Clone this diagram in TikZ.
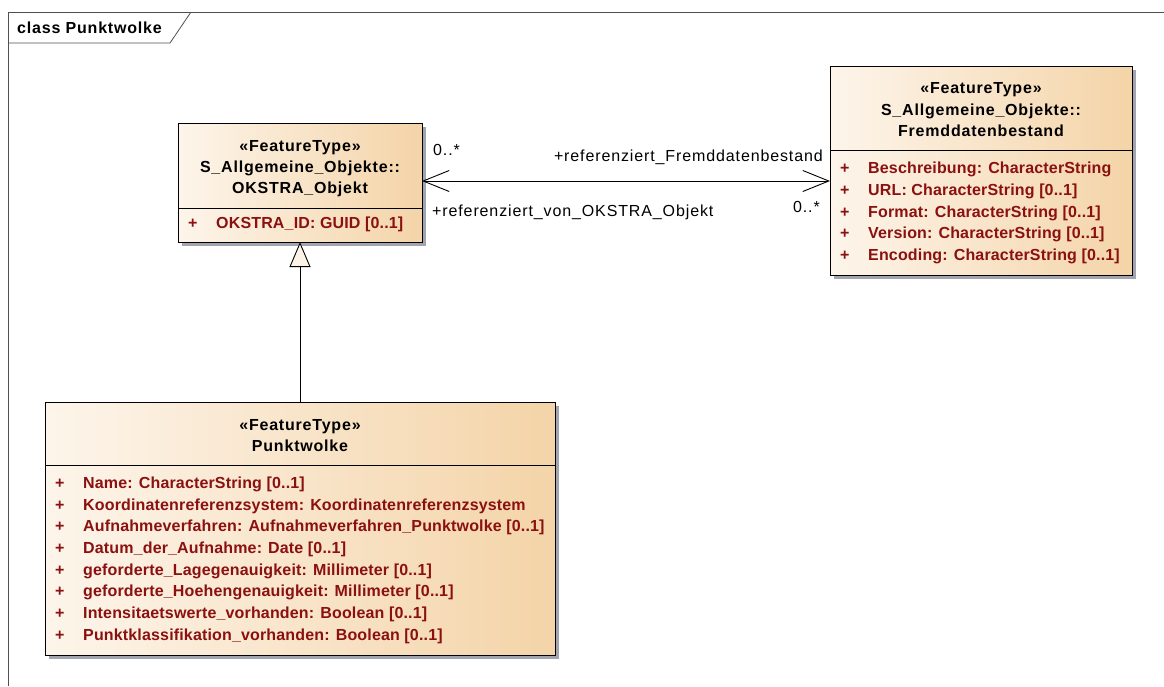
\documentclass[tikz,border=0pt]{standalone}
\usepackage{fontspec}
\setmainfont{Liberation Sans}
\newfontfamily\hdfont[LetterSpace=5]{Liberation Sans}
\newfontfamily\atfont[LetterSpace=1]{Liberation Sans}
\newfontfamily\lbfont[LetterSpace=5.5]{Liberation Sans}
\usetikzlibrary{arrows.meta,shadows}
\definecolor{boxl}{RGB}{253,245,235}
\definecolor{boxr}{RGB}{244,212,168}
\definecolor{attrc}{RGB}{139,16,16}
\definecolor{shadowc}{RGB}{162,164,176}
\definecolor{tric}{RGB}{253,243,230}
\definecolor{framec}{RGB}{80,80,80}
\tikzset{
  cls/.style={draw=black, line width=0.9pt, left color=boxl, right color=boxr,
    drop shadow={shadow xshift=4pt, shadow yshift=-4pt, fill=shadowc, opacity=1},
    inner sep=0pt, outer sep=0pt},
  hd/.style={anchor=base, font=\hdfont\bfseries\fontsize{16}{19}\selectfont, inner sep=0pt},
  attrtxt/.style={anchor=base west, font=\atfont\bfseries\fontsize{16}{19}\selectfont, text=attrc, inner sep=0pt},
  lb/.style={anchor=base west, font=\lbfont\fontsize{16}{19}\selectfont, inner sep=0pt},
  lbr/.style={anchor=base east, font=\lbfont\fontsize{16}{19}\selectfont, inner sep=0pt},
  divider/.style={draw=black, line width=0.9pt},
  assoc/.style={draw=black, line width=0.9pt, {Straight Barb[length=26pt,width=21pt]}-{Straight Barb[length=26pt,width=21pt]}},
  gen/.style={draw=black, line width=0.9pt, -{Triangle[length=25pt,width=21pt,fill=tric]}},
}
\begin{document}
\begin{tikzpicture}[x=1pt,y=-1pt]
\useasboundingbox (0,0) rectangle (1164,686);
% frame
\draw[framec, line width=0.8pt] (8,686) -- (8,12) -- (1164,12);
\draw[framec, line width=0.8pt] (8,43) -- (170,43) -- (191,12);
\node[anchor=base west, font=\hdfont\bfseries\fontsize{16}{19}\selectfont, inner sep=0pt] (title) at (17,33) {class Punktwolke};

% boxes
\node[cls, minimum width=244pt, minimum height=119pt] (okstra) at (300,182.5) {};
\node[cls, minimum width=302pt, minimum height=209pt] (fremd) at (981,170.5) {};
\node[cls, minimum width=510pt, minimum height=253pt] (punkt) at (300,528.5) {};

% OKSTRA_Objekt
\node[hd] (o1) at (300,151) {«FeatureType»};
\node[hd] (o2) at (300,172) {S\_Allgemeine\_Objekte::};
\node[hd] (o3) at (300,193) {OKSTRA\_Objekt};
\draw[divider] (okstra.west |- 0,208) -- (okstra.east |- 0,208);
\node[attrtxt] (op1) at (188,228) {+};
\node[attrtxt] (oa1) at (216,228) {OKSTRA\_ID: GUID [0..1]};

% Fremddatenbestand
\node[hd] (f1) at (981,93) {«FeatureType»};
\node[hd] (f2) at (981,115) {S\_Allgemeine\_Objekte::};
\node[hd] (f3) at (981,136) {Fremddatenbestand};
\draw[divider] (fremd.west |- 0,150) -- (fremd.east |- 0,150);
\node[attrtxt] (fp1) at (840,173) {+};
\node[attrtxt] (fa1) at (868,173) {Beschreibung: CharacterString};
\node[attrtxt] (fp2) at (840,195) {+};
\node[attrtxt] (fa2) at (868,195) {URL: CharacterString [0..1]};
\node[attrtxt] (fp3) at (840,217) {+};
\node[attrtxt] (fa3) at (868,217) {Format: CharacterString [0..1]};
\node[attrtxt] (fp4) at (840,238) {+};
\node[attrtxt] (fa4) at (868,238) {Version: CharacterString [0..1]};
\node[attrtxt] (fp5) at (840,260) {+};
\node[attrtxt] (fa5) at (868,260) {Encoding: CharacterString [0..1]};

% Punktwolke
\node[hd] (p1) at (300,430) {«FeatureType»};
\node[hd] (p2) at (300,451) {Punktwolke};
\draw[divider] (punkt.west |- 0,465) -- (punkt.east |- 0,465);
\node[attrtxt] (pp1) at (55,488) {+};
\node[attrtxt] (pa1) at (83,488) {Name: CharacterString [0..1]};
\node[attrtxt] (pp2) at (55,510) {+};
\node[attrtxt] (pa2) at (83,510) {Koordinatenreferenzsystem: Koordinatenreferenzsystem};
\node[attrtxt] (pp3) at (55,531.5) {+};
\node[attrtxt] (pa3) at (83,531.5) {Aufnahmeverfahren: Aufnahmeverfahren\_Punktwolke [0..1]};
\node[attrtxt] (pp4) at (55,553) {+};
\node[attrtxt] (pa4) at (83,553) {Datum\_der\_Aufnahme: Date [0..1]};
\node[attrtxt] (pp5) at (55,575) {+};
\node[attrtxt] (pa5) at (83,575) {geforderte\_Lagegenauigkeit: Millimeter [0..1]};
\node[attrtxt] (pp6) at (55,596.5) {+};
\node[attrtxt] (pa6) at (83,596.5) {geforderte\_Hoehengenauigkeit: Millimeter [0..1]};
\node[attrtxt] (pp7) at (55,618) {+};
\node[attrtxt] (pa7) at (83,618) {Intensitaetswerte\_vorhanden: Boolean [0..1]};
\node[attrtxt] (pp8) at (55,640) {+};
\node[attrtxt] (pa8) at (83,640) {Punktklassifikation\_vorhanden: Boolean [0..1]};

% association
\coordinate (ay) at (0,181);
\draw[assoc] (okstra.east |- ay) -- (fremd.west |- ay);
\node[lb] (m1) at (433,155) {0..*};
\node[lbr] (r1) at (823,161) {+referenziert\_Fremddatenbestand};
\node[lb] (r2) at (432,216) {+referenziert\_von\_OKSTRA\_Objekt};
\node[lbr] (m2) at (820,212) {0..*};

% generalization
\draw[gen] (punkt.north) -- (okstra.south);
\end{tikzpicture}
\end{document}
